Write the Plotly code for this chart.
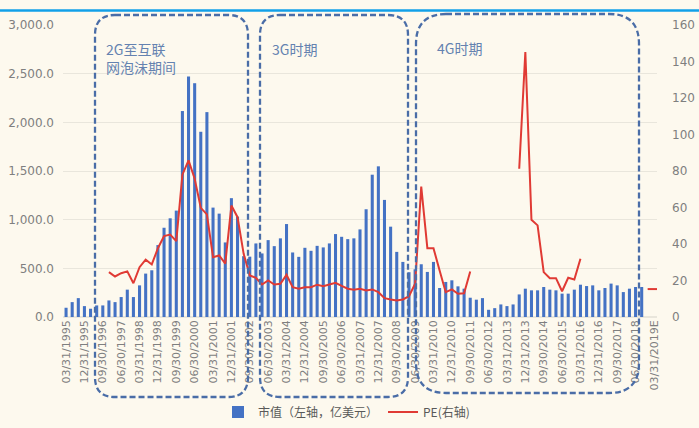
import plotly.graph_objects as go

# ---------------- data ----------------
tick_labels = ["03/31/1995", "12/31/1995", "09/30/1996", "06/30/1997", "03/31/1998", "12/31/1998",
               "09/30/1999", "06/30/2000", "03/31/2001", "12/31/2001", "09/30/2002", "06/30/2003",
               "03/31/2004", "12/31/2004", "09/30/2005", "06/30/2006", "03/31/2007", "12/31/2007",
               "09/30/2008", "06/30/2009", "03/31/2010", "12/31/2010", "09/30/2011", "06/30/2012",
               "03/31/2013", "12/31/2013", "09/30/2014", "06/30/2015", "03/31/2016", "12/31/2016",
               "09/30/2017", "06/30/2018", "03/31/2019E"]

quarter_ends = ["03/31", "06/30", "09/30", "12/31"]
categories = []
for year in range(1995, 2020):
    for q in quarter_ends:
        categories.append(f"{q}/{year}")
categories = categories[:97]
categories[-1] = categories[-1] + "E"

market_cap = [95, 153, 194, 112, 85, 119, 119, 170, 153, 205,
              281, 205, 325, 446, 480, 739, 917, 1014, 1093, 2116,
              2471, 2402, 1903, 2105, 1124, 1062, 766, 1221, 1031, 625,
              620, 756, 653, 790, 728, 808, 955, 663, 618, 711,
              680, 731, 715, 756, 852, 824, 800, 808, 900, 1107,
              1462, 1548, 1203, 928, 669, 566, 460, 490, 542, 463,
              566, 298, 360, 377, 315, 291, 198, 178, 194, 74,
              91, 129, 112, 129, 232, 291, 274, 274, 308, 281,
              274, 240, 240, 281, 332, 318, 325, 274, 298, 343,
              325, 256, 291, 308, 308, None, None]

pe = [None, None, None, None, None, None, None, 24.6, 22.2, 24.0,
      25.0, 18.5, 27.3, 31.4, 28.8, 37.7, 44.3, 45.2, 41.6, 78.0,
      85.8, 75.8, 59.8, 56.2, 32.8, 33.7, 29.2, 61.1, 54.7, 34.6,
      22.8, 21.5, 17.8, 20.0, 17.8, 18.2, 23.1, 16.3, 15.5, 16.3,
      16.3, 17.7, 16.9, 17.8, 18.7, 17.1, 15.5, 14.9, 15.5, 14.5,
      15.1, 13.6, 10.3, 9.6, 9.0, 9.6, 11.4, 18.2, 71.5, 37.7,
      37.7, 25.5, 13.6, 15.1, 12.7, 13.0, 24.9, None, None, None,
      None, None, None, None, 81.2, 145.2, 53.3, 50.2, 24.6, 21.3,
      21.3, 14.1, 21.5, 20.6, 31.9, None, None, None, None, None,
      None, None, None, None, None, None, 15.3]

period_labels = ["2G至互联<br>网泡沫期间", "3G时期", "4G时期"]

# ---------------- styling ----------------
W, H = 699, 428
ML, MR, MT, MB = 63, 42, 25, 111
PW, PH = W - ML - MR, H - MT - MB
BG = "#fdf9ee"
BAR = "#4472c4"
RED = "#e03a34"
GRID = "#e9e6dc"
TICK = "#7f7f7f"
BOX = "#4a6da7"
TXT = "#6482b0"


def px(x):
    return (x - ML) / PW


def py(y):
    return (H - MB - y) / PH


def rounded_path(x0, y0, x1, y1, r):
    pts = [
        ("M", (x0 + r, y0)),
        ("L", (x1 - r, y0)),
        ("Q", (x1, y0), (x1, y0 + r)),
        ("L", (x1, y1 - r)),
        ("Q", (x1, y1), (x1 - r, y1)),
        ("L", (x0 + r, y1)),
        ("Q", (x0, y1), (x0, y1 - r)),
        ("L", (x0, y0 + r)),
        ("Q", (x0, y0), (x0 + r, y0)),
    ]
    s = ""
    for p in pts:
        coords = " ".join(f"{px(a):.5f},{py(b):.5f}" for a, b in p[1:])
        s += f"{p[0]} {coords} "
    return s + "Z"


fig = go.Figure()

fig.add_trace(go.Bar(
    x=categories, y=market_cap, name="市值（左轴，亿美元）",
    marker=dict(color=BAR, line=dict(width=0)), yaxis="y",
))

fig.add_trace(go.Scatter(
    x=categories, y=pe, name="PE(右轴)", mode="lines",
    line=dict(color=RED, width=2), yaxis="y2", connectgaps=False,
))

# isolated PE values (no neighbours) drawn as short dashes
iso_x, iso_y = [], []
for i, v in enumerate(pe):
    if v is None:
        continue
    left = pe[i - 1] if i > 0 else None
    right = pe[i + 1] if i < len(pe) - 1 else None
    if left is None and right is None:
        iso_x.append(categories[i])
        iso_y.append(v)
fig.add_trace(go.Scatter(
    x=iso_x, y=iso_y, mode="markers", showlegend=False, yaxis="y2",
    marker=dict(symbol="line-ew", size=9, line=dict(color=RED, width=2)),
))

shapes = [
    dict(type="line", xref="paper", yref="paper", x0=px(0), x1=px(W), y0=py(10.5), y1=py(10.5),
         line=dict(color="#12a0e8", width=2.5), layer="above"),
]
boxes = [(95, 15, 248, 397, 20), (260, 15, 408, 397, 20), (416, 14, 639, 393, 30)]
for b in boxes:
    shapes.append(dict(type="path", xref="paper", yref="paper", path=rounded_path(*b),
                       line=dict(color=BOX, width=2.3, dash="6px,3px"), layer="above"))

annotations = []
label_pos = [(104, 37), (270, 37), (435, 36)]
for txt, (ax, ay) in zip(period_labels, label_pos):
    annotations.append(dict(text=txt, xref="paper", yref="paper", x=px(ax), y=py(ay),
                            xanchor="left", yanchor="top", showarrow=False, align="left",
                            font=dict(family="Noto Sans CJK SC", size=14, color=TXT)))

fig.update_layout(
    width=W, height=H, autosize=False,
    margin=dict(l=ML, r=MR, t=MT, b=MB, pad=0, autoexpand=False),
    paper_bgcolor=BG, plot_bgcolor=BG,
    font=dict(family="DejaVu Sans", size=10, color=TICK),
    bargap=0.5,
    showlegend=True,
    legend=dict(orientation="h", xref="container", yref="container",
                x=218 / W, xanchor="left", y=(H - 412) / H, yanchor="middle",
                font=dict(family="Noto Sans CJK SC", size=12, color="#595959"),
                bgcolor="rgba(0,0,0,0)", itemwidth=30),
    xaxis=dict(type="category", categoryorder="array", categoryarray=categories,
               tickmode="array", tickvals=tick_labels, ticktext=tick_labels,
               tickangle=-90, showgrid=False, zeroline=False, showline=False, automargin=False,
               ticks="", tickfont=dict(size=11, color=TICK), range=[-0.5, 96.5]),
    yaxis=dict(range=[0, 3000], dtick=500, tickformat=",.1f", showgrid=True, gridcolor=GRID,
               gridwidth=1, zeroline=True, zerolinecolor=GRID, showline=False, ticks="",
               automargin=False, ticklabelstandoff=8, tickfont=dict(size=12, color=TICK)),
    yaxis2=dict(range=[0, 160], dtick=20, overlaying="y", side="right", showgrid=False,
                zeroline=False, showline=False, ticks="", automargin=False, ticklabelstandoff=14,
                tickfont=dict(size=12, color=TICK)),
    shapes=shapes,
    annotations=annotations,
)

fig.write_html(
    "out.html",
    config={"displayModeBar": False},
    post_script="document.body.style.margin='0';document.body.style.background='%s';" % BG,
)
